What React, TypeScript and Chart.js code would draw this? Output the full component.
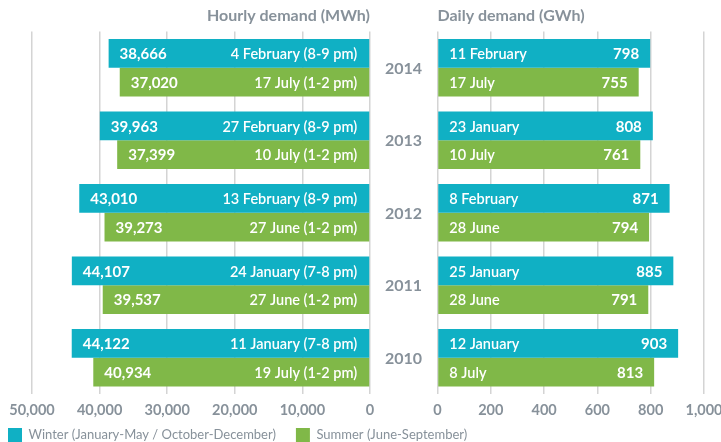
import React, { useEffect, useRef } from "react";
import { Chart, registerables } from "chart.js";

Chart.register(...registerables);

// ---- Data ----
const years = ["2014", "2013", "2012", "2011", "2010"];
const seriesNames = ["Winter (January-May / October-December)", "Summer (June-September)"];

const hourlyWinter = [38666, 39963, 43010, 44107, 44122];
const hourlySummer = [37020, 37399, 39273, 39537, 40934];
const hourlyWinterDates = [
  "4 February (8-9 pm)",
  "27 February (8-9 pm)",
  "13 February (8-9 pm)",
  "24 January (7-8 pm)",
  "11 January (7-8 pm)",
];
const hourlySummerDates = [
  "17 July (1-2 pm)",
  "10 July (1-2 pm)",
  "27 June (1-2 pm)",
  "27 June (1-2 pm)",
  "19 July (1-2 pm)",
];

const dailyWinter = [798, 808, 871, 885, 903];
const dailySummer = [755, 761, 794, 791, 813];
const dailyWinterDates = ["11 February", "23 January", "8 February", "25 January", "12 January"];
const dailySummerDates = ["17 July", "10 July", "28 June", "28 June", "8 July"];

const hourlyTitle = "Hourly demand (MWh)";
const dailyTitle = "Daily demand (GWh)";
const hourlyMax = 50000;
const hourlyStep = 10000;
const dailyMax = 1000;
const dailyStep = 200;

// ---- Styles ----
const TEAL = "#10B0C4";
const GREEN = "#80B848";
const GREY = "#87919A";
const GRID = "#d4d4d4";
const FONT = "Lato";

const fmt = (v: number) => v.toLocaleString("en-US");

function barLabelPlugin(side: "left" | "right", dates: string[][]) {
  return {
    id: "barLabels" + side,
    afterDatasetsDraw(chart: any) {
      const ctx = chart.ctx;
      ctx.save();
      ctx.fillStyle = "#ffffff";
      ctx.textBaseline = "middle";
      chart.data.datasets.forEach((ds: any, di: number) => {
        const meta = chart.getDatasetMeta(di);
        meta.data.forEach((bar: any, i: number) => {
          const v = ds.data[i] as number;
          const lo = Math.min(bar.x, bar.base);
          const hi = Math.max(bar.x, bar.base);
          const y = bar.y + 1;
          const num = fmt(v);
          const date = dates[di][i];
          if (side === "left") {
            ctx.font = `bold 15px ${FONT}`;
            ctx.textAlign = "left";
            ctx.fillText(num, lo + 11, y);
            ctx.font = `600 14.5px ${FONT}`;
            ctx.textAlign = "right";
            ctx.fillText(date, hi - 12, y);
          } else {
            ctx.font = `600 14.5px ${FONT}`;
            ctx.textAlign = "left";
            ctx.fillText(date, lo + 11, y);
            ctx.font = `bold 15px ${FONT}`;
            ctx.textAlign = "right";
            ctx.fillText(num, hi - 11, y);
          }
        });
      });
      ctx.restore();
    },
  };
}

const yearPlugin = {
  id: "yearLabels",
  afterDraw(chart: any) {
    const ctx = chart.ctx;
    const ys = chart.scales.y;
    ctx.save();
    ctx.fillStyle = GREY;
    ctx.font = `bold 16px ${FONT}`;
    ctx.textAlign = "center";
    ctx.textBaseline = "middle";
    (chart.data.labels as string[]).forEach((lab, i) => {
      ctx.fillText(lab, chart.chartArea.left - 34, ys.getPixelForValue(i) + 1);
    });
    ctx.restore();
  },
};

// nudges the legend row up so it sits tight under the axis labels
const legendShift = {
  id: "legendShift",
  afterLayout(chart: any) {
    if (chart.legend) {
      chart.legend.top -= 12;
      chart.legend.bottom -= 12;
    }
  },
};

export default function App() {
  const leftRef = useRef<HTMLCanvasElement>(null);
  const rightRef = useRef<HTMLCanvasElement>(null);

  useEffect(() => {
    const tickFont = { family: FONT, size: 14.5, weight: "bold" as const };
    const titleFont = { family: FONT, size: 16, weight: "bold" as const };

    const left = new Chart(leftRef.current!, {
      type: "bar",
      data: {
        labels: years,
        datasets: [
          { label: seriesNames[0], data: hourlyWinter, backgroundColor: TEAL, categoryPercentage: 0.79, barPercentage: 1 },
          { label: seriesNames[1], data: hourlySummer, backgroundColor: GREEN, categoryPercentage: 0.79, barPercentage: 1 },
        ],
      },
      options: {
        indexAxis: "y",
        responsive: false,
        animation: false,
        devicePixelRatio: 1,
        layout: { padding: { left: -12, right: 0, top: 0, bottom: -22 } },
        plugins: {
          legend: {
            position: "bottom",
            align: "start",
            labels: { boxWidth: 14, boxHeight: 14, padding: 20, color: GREY, font: { family: FONT, size: 13 } },
          },
          title: {
            display: true,
            text: hourlyTitle,
            align: "end",
            fullSize: false,
            color: GREY,
            font: titleFont,
            padding: { top: 6, bottom: 6.3 },
          },
          tooltip: { enabled: false },
        },
        scales: {
          x: {
            reverse: true,
            min: 0,
            max: hourlyMax,
            ticks: { stepSize: hourlyStep, color: GREY, font: tickFont, padding: 7.5, callback: (v: any) => fmt(Number(v)) },
            grid: { color: GRID, lineWidth: 1.5, drawTicks: false },
            border: { display: false },
            afterFit: (s: any) => { s.height = 26; },
          },
          y: {
            display: true,
            ticks: { display: false },
            grid: { display: false },
            border: { display: false },
            afterFit: (s: any) => { s.width = 44; },
          },
          yR: {
            type: "category",
            position: "right",
            display: true,
            ticks: { display: false },
            grid: { display: false },
            border: { display: false },
            afterFit: (s: any) => { s.width = 351; },
          },
        },
      } as any,
      plugins: [barLabelPlugin("left", [hourlyWinterDates, hourlySummerDates]), legendShift],
    });

    const bottomPad = 442 - left.scales.x.bottom;

    const right = new Chart(rightRef.current!, {
      type: "bar",
      data: {
        labels: years,
        datasets: [
          { label: seriesNames[0], data: dailyWinter, backgroundColor: TEAL, categoryPercentage: 0.79, barPercentage: 1 },
          { label: seriesNames[1], data: dailySummer, backgroundColor: GREEN, categoryPercentage: 0.79, barPercentage: 1 },
        ],
      },
      options: {
        indexAxis: "y",
        responsive: false,
        animation: false,
        devicePixelRatio: 1,
        layout: { padding: { left: 57.5, right: 0, top: 0, bottom: bottomPad } },
        plugins: {
          legend: { display: false },
          title: {
            display: true,
            text: dailyTitle,
            align: "start",
            fullSize: false,
            color: GREY,
            font: titleFont,
            padding: { top: 6, bottom: 6.3 },
          },
          tooltip: { enabled: false },
        },
        scales: {
          x: {
            min: 0,
            max: dailyMax,
            ticks: { stepSize: dailyStep, color: GREY, font: tickFont, padding: 7.5, callback: (v: any) => fmt(Number(v)) },
            grid: { color: GRID, lineWidth: 1.5, drawTicks: false },
            border: { display: false },
            afterFit: (s: any) => { s.height = 26; },
          },
          y: { display: false },
        },
      } as any,
      plugins: [barLabelPlugin("right", [dailyWinterDates, dailySummerDates]), yearPlugin],
    });

    return () => {
      left.destroy();
      right.destroy();
    };
  }, []);

  return (
    <div style={{ position: "fixed", left: 0, top: 0, width: 721, height: 442, background: "#fff", overflow: "hidden" }}>
      <canvas ref={leftRef} width={721} height={442} style={{ position: "absolute", left: 0, top: 0 }} />
      <canvas ref={rightRef} width={350} height={442} style={{ position: "absolute", left: 380, top: 0 }} />
    </div>
  );
}
